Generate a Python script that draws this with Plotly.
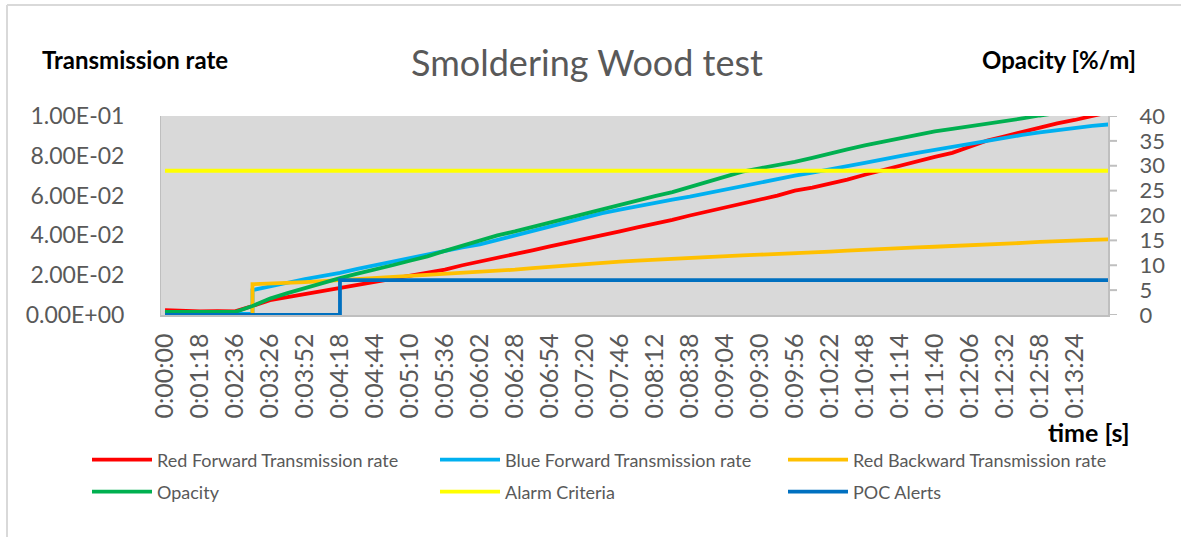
import plotly.graph_objects as go

# sample times (category axis, two repeated where the steps are)
times = ["0:00:00", "0:00:39", "0:01:18", "0:01:57", "0:02:36", "0:03:01", "0:03:01",
         "0:03:26", "0:03:39", "0:03:52", "0:04:05", "0:04:18", "0:04:18", "0:04:31",
         "0:04:44", "0:04:57", "0:05:10", "0:05:23", "0:05:36", "0:05:49", "0:06:02",
         "0:06:15", "0:06:28", "0:06:41", "0:06:54", "0:07:07", "0:07:20", "0:07:33",
         "0:07:46", "0:07:59", "0:08:12", "0:08:25", "0:08:38", "0:08:51", "0:09:04",
         "0:09:17", "0:09:30", "0:09:43", "0:09:56", "0:10:09", "0:10:22", "0:10:35",
         "0:10:48", "0:11:01", "0:11:14", "0:11:27", "0:11:40", "0:11:53", "0:12:06",
         "0:12:19", "0:12:32", "0:12:45", "0:12:58", "0:13:11", "0:13:24", "0:13:37",
         "0:13:50"]

tick_labels = ["0:00:00", "0:01:18", "0:02:36", "0:03:26", "0:03:52", "0:04:18", "0:04:44",
               "0:05:10", "0:05:36", "0:06:02", "0:06:28", "0:06:54", "0:07:20", "0:07:46",
               "0:08:12", "0:08:38", "0:09:04", "0:09:30", "0:09:56", "0:10:22", "0:10:48",
               "0:11:14", "0:11:40", "0:12:06", "0:12:32", "0:12:58", "0:13:24"]

# transmission rates (left axis)
red_forward = [0.0025, 0.0021, 0.0018, 0.0019, 0.0018, 0.0045, 0.0045,
               0.0075, 0.0090, 0.0105, 0.0122, 0.0138, 0.0138, 0.0150,
               0.0165, 0.0180, 0.0195, 0.0210, 0.0228, 0.0250, 0.0268,
               0.0285, 0.0305, 0.0325, 0.0345, 0.0363, 0.0380, 0.0400,
               0.0420, 0.0440, 0.0458, 0.0478, 0.0500, 0.0520, 0.0540,
               0.0560, 0.0580, 0.0600, 0.0625, 0.0640, 0.0660, 0.0680,
               0.0705, 0.0728, 0.0750, 0.0775, 0.0795, 0.0815, 0.0845,
               0.0877, 0.0898, 0.0920, 0.0940, 0.0963, 0.0980, 0.1002,
               0.1020]
blue_forward = [0.0005, 0.0005, 0.0005, 0.0005, 0.0005, 0.0005, 0.0125,
                0.0145, 0.0162, 0.0180, 0.0195, 0.0212, 0.0212, 0.0232,
                0.0250, 0.0268, 0.0290, 0.0308, 0.0325, 0.0340, 0.0355,
                0.0378, 0.0400, 0.0422, 0.0445, 0.0468, 0.0490, 0.0512,
                0.0530, 0.0548, 0.0565, 0.0580, 0.0595, 0.0613, 0.0630,
                0.0648, 0.0665, 0.0682, 0.0700, 0.0715, 0.0730, 0.0748,
                0.0765, 0.0780, 0.0798, 0.0815, 0.0830, 0.0845, 0.0862,
                0.0878, 0.0890, 0.0905, 0.0918, 0.0930, 0.0940, 0.0950,
                0.0958]
red_backward = [0.0, 0.0, 0.0, 0.0, 0.0, 0.0, 0.0155,
                0.0157, 0.0160, 0.0165, 0.0170, 0.0175, 0.0175, 0.0182,
                0.0187, 0.0191, 0.0195, 0.0200, 0.0205, 0.0210, 0.0214,
                0.0222, 0.0228, 0.0236, 0.0243, 0.0250, 0.0256, 0.0262,
                0.0268, 0.0273, 0.0278, 0.0283, 0.0287, 0.0292, 0.0296,
                0.0300, 0.0303, 0.0306, 0.0309, 0.0313, 0.0318, 0.0323,
                0.0328, 0.0333, 0.0337, 0.0340, 0.0343, 0.0346, 0.0349,
                0.0352, 0.0357, 0.0362, 0.0367, 0.0372, 0.0375, 0.0378,
                0.0380]

# opacity [%/m] (right axis)
opacity = [0.6, 0.6, 0.6, 0.6, 0.6, 1.8, 1.8,
           3.3, 4.4, 5.4, 6.5, 7.4, 7.4, 8.3,
           9.1, 10.0, 10.9, 11.8, 12.9, 14.0, 15.1,
           16.0, 16.8, 17.7, 18.6, 19.5, 20.3, 21.3,
           22.1, 23.0, 23.9, 24.7, 25.7, 26.7, 27.8,
           28.8, 29.5, 30.1, 30.8, 31.6, 32.5, 33.3,
           34.1, 34.8, 35.5, 36.3, 36.9, 37.4, 37.9,
           38.4, 39.0, 39.5, 40.1, 40.6, 41.1, 41.6,
           42.1]
alarm_times = ["0:00:00", "0:13:50"]
alarm = [29, 29]
poc_times = ["0:00:00", "0:04:18", "0:04:18", "0:13:50"]
poc_alerts = [0, 0, 7, 7]

left_ticks = [0, 0.02, 0.04, 0.06, 0.08, 0.1]
left_ticktext = ["0.00E+00", "2.00E-02", "4.00E-02", "6.00E-02", "8.00E-02", "1.00E-01"]
right_ticks = [0, 5, 10, 15, 20, 25, 30, 35, 40]

FONT = "Lato"
GRAY = "#595959"
AXIS_GRAY = "#BFBFBF"
NBSP = "\u00a0"

# plot area in pixels: left 161, right 1108, top 116, bottom 315
def px(x):
    return (x - 161) / 947.0

def py(y):
    return (315 - y) / 199.0

fig = go.Figure()
lw = 3.8
fig.add_trace(go.Scatter(x=times, y=red_forward, name="Red Forward Transmission rate",
                         mode="lines", line=dict(color="#FF0000", width=lw)))
fig.add_trace(go.Scatter(x=times, y=blue_forward, name="Blue Forward Transmission rate",
                         mode="lines", line=dict(color="#00B0F0", width=lw)))
fig.add_trace(go.Scatter(x=times, y=red_backward, name="Red Backward Transmission rate",
                         mode="lines", line=dict(color="#FFC000", width=lw)))
fig.add_trace(go.Scatter(x=times, y=opacity, name="Opacity", yaxis="y2", legend="legend2",
                         mode="lines", line=dict(color="#00B050", width=lw)))
fig.add_trace(go.Scatter(x=alarm_times, y=alarm, name="Alarm Criteria", yaxis="y2",
                         legend="legend2",
                         mode="lines", line=dict(color="#FFFF00", width=lw)))
fig.add_trace(go.Scatter(x=poc_times, y=poc_alerts, name="POC Alerts", yaxis="y2",
                         legend="legend2",
                         mode="lines", line=dict(color="#0070C0", width=lw)))

cats = list(dict.fromkeys(times))

legend_style = dict(orientation="h", xanchor="left", yanchor="middle",
                    entrywidth=273, entrywidthmode="pixels", itemwidth=60,
                    traceorder="normal", font=dict(family=FONT, size=18, color=GRAY),
                    bgcolor="rgba(0,0,0,0)")

# short visible tick marks on the right axis (the real ticks are long and invisible
# so that the labels sit further from the axis)
right_tick_marks = [dict(type="line", xref="paper", yref="y2", x0=1, x1=px(1117),
                         y0=v, y1=v, line=dict(color=AXIS_GRAY, width=2))
                    for v in right_ticks]

fig.update_layout(
    width=1181, height=537,
    margin=dict(l=161, r=73, t=116, b=222, autoexpand=False),
    paper_bgcolor="white", plot_bgcolor="#D9D9D9",
    font=dict(family=FONT, color=GRAY),
    title=dict(text="Smoldering Wood test", x=587 / 1181, xanchor="center",
               y=1 - 63 / 537, yanchor="middle",
               font=dict(family=FONT, size=36, color=GRAY)),
    xaxis=dict(type="category", categoryorder="array", categoryarray=cats,
               range=[-0.23, 53.9], tickmode="array", tickvals=tick_labels,
               # a trailing space keeps the rotated labels off the axis line
               ticktext=[t + NBSP for t in tick_labels], tickangle=-90, ticks="",
               showgrid=False, showline=True, linecolor=AXIS_GRAY, linewidth=2,
               zeroline=False, tickfont=dict(family=FONT, size=25, color=GRAY),
               automargin=False),
    yaxis=dict(range=[0, 0.1], tickmode="array", tickvals=left_ticks,
               ticktext=left_ticktext, showgrid=False, zeroline=False,
               showline=True, linecolor=AXIS_GRAY, linewidth=1, ticks="",
               tickfont=dict(family=FONT, size=23, color=GRAY),
               ticklabelstandoff=31, automargin=False),
    yaxis2=dict(range=[0, 40], overlaying="y", side="right", tickmode="array",
                tickvals=right_ticks, showgrid=False, zeroline=False, showline=True,
                linecolor=AXIS_GRAY, linewidth=2, ticks="outside", ticklen=25,
                tickwidth=1, tickcolor="rgba(0,0,0,0)",
                tickfont=dict(family=FONT, size=22, color=GRAY),
                automargin=False),
    showlegend=True,
    legend=dict(x=px(87), y=py(460), **legend_style),
    legend2=dict(x=px(87), y=py(492), **legend_style),
    annotations=[
        dict(text="<b>Transmission rate</b>", xref="paper", yref="paper",
             x=px(40), y=py(60), xanchor="left", yanchor="middle", showarrow=False,
             font=dict(family=FONT, size=24, color="black")),
        dict(text="<b>Opacity [%/m]</b>", xref="paper", yref="paper",
             x=px(1138), y=py(60), xanchor="right", yanchor="middle", showarrow=False,
             font=dict(family=FONT, size=24, color="black")),
        dict(text="<b>time [s]</b>", xref="paper", yref="paper",
             x=px(1132), y=py(432), xanchor="right", yanchor="middle", showarrow=False,
             font=dict(family=FONT, size=25, color="black")),
    ],
    shapes=[
        dict(type="line", xref="paper", yref="paper", x0=px(7), x1=px(1200),
             y0=py(5), y1=py(5), line=dict(color="#D9D9D9", width=2)),
        dict(type="line", xref="paper", yref="paper", x0=px(7), x1=px(7),
             y0=py(5), y1=py(560), line=dict(color="#D9D9D9", width=2)),
    ] + right_tick_marks,
)

# drop the default body margin so the figure sits at the page corner
fig.write_html("out.html", config={"displayModeBar": False},
               post_script="document.body.style.margin='0';")
